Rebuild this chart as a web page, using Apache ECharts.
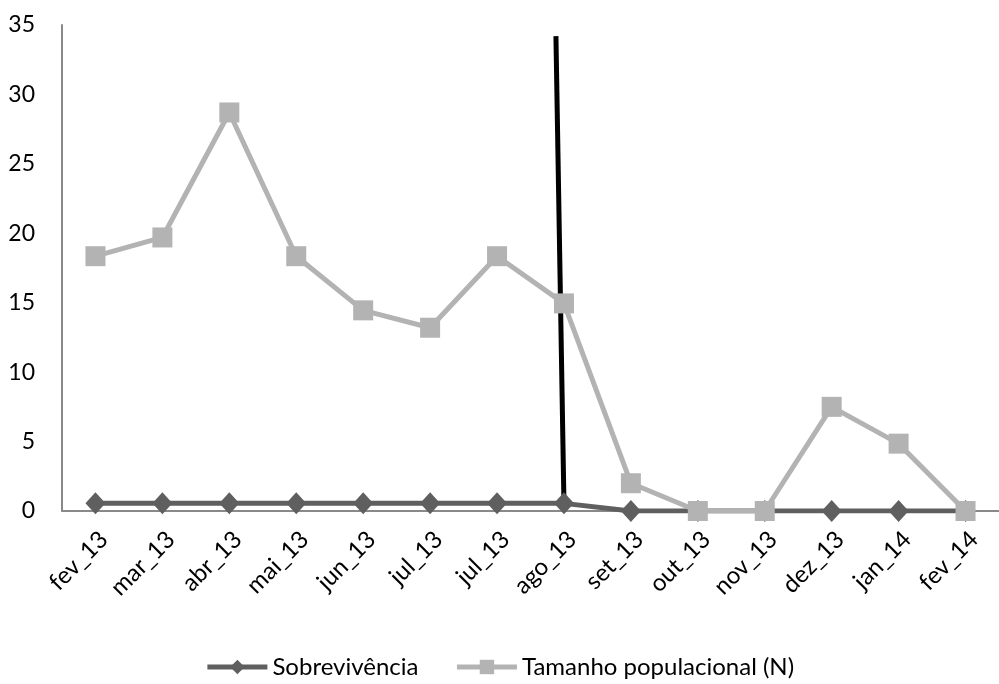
<!DOCTYPE html>
<html><head><meta charset="utf-8">
<script src="https://cdn.jsdelivr.net/npm/echarts@6/dist/echarts.min.js"></script>
<style>html,body{margin:0;padding:0;background:#fff}#c{width:999px;height:684px}</style>
</head><body><div id="c"></div>
<script>
const categories = ['fev_13','mar_13','abr_13','mai_13','jun_13','jul_13','jul_13','ago_13','set_13','out_13','nov_13','dez_13','jan_14','fev_14'];
const sobrevivencia = [0.55,0.55,0.55,0.55,0.55,0.55,0.55,0.55,0,0,0,0,0,0];
const tamanho = [18.35,19.7,28.7,18.35,14.45,13.2,18.35,14.95,2.0,0,0,7.5,4.85,0];
const blackLine = [[6.88,34.2],[7,0.55]];
const yTicks = {min:0,max:35,interval:5};
const FONT = 'Lato';
const chart = echarts.init(document.getElementById('c'));
chart.setOption({
  animation:false,
  textStyle:{fontFamily:FONT},
  grid:{left:62,top:25,width:946,height:486,containLabel:false},
  legend:{
    bottom:0,left:'center',itemWidth:60,itemHeight:18,itemGap:36,
    lineStyle:{width:5},
    textStyle:{fontFamily:FONT,fontSize:24,color:'#000'},
    data:['Sobrevivência','Tamanho populacional (N)']
  },
  xAxis:[{
    type:'category',data:categories,boundaryGap:true,
    axisLine:{lineStyle:{color:'#898989',width:2}},
    axisTick:{show:false},
    axisLabel:{rotate:45,margin:16,verticalAlign:'top',fontSize:24,color:'#000',fontFamily:FONT,interval:0}
  },{
    type:'value',min:-0.5,max:13.5,show:false
  }],
  yAxis:{
    type:'value',min:yTicks.min,max:yTicks.max,interval:yTicks.interval,
    axisLine:{show:true,onZero:false,lineStyle:{color:'#898989',width:2}},
    axisTick:{show:false},splitLine:{show:false},
    axisLabel:{fontSize:23,color:'#000',fontFamily:FONT,margin:27}
  },
  series:[{
    name:'Sobrevivência',type:'line',data:sobrevivencia,xAxisIndex:0,
    symbol:'diamond',symbolSize:[20,22],
    lineStyle:{color:'#5f5f5f',width:5},itemStyle:{color:'#5f5f5f'},z:2
  },{
    name:'Tamanho populacional (N)',type:'line',data:tamanho,xAxisIndex:0,
    symbol:'rect',symbolSize:20,
    lineStyle:{color:'#b3b3b3',width:5},itemStyle:{color:'#b3b3b3'},z:3
  },{
    name:'_black',type:'line',data:blackLine,xAxisIndex:1,
    symbol:'none',lineStyle:{color:'#000',width:5},z:1
  }]
});
</script></body></html>
